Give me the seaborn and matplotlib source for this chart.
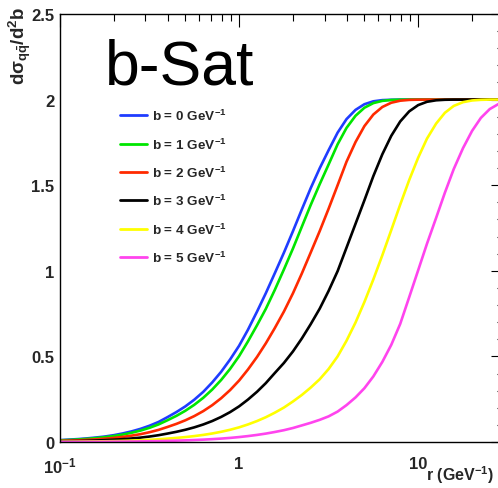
import numpy as np
import pandas as pd
import matplotlib
matplotlib.use("Agg")
import matplotlib.pyplot as plt
import matplotlib.ticker as mticker
import seaborn as sns

# ---- data (r in GeV^-1, dipole cross section) ----
r_vals = [0.1, 0.112, 0.126, 0.141, 0.158, 0.178, 0.2, 0.224, 0.251, 0.282,
          0.316, 0.355, 0.398, 0.447, 0.501, 0.562, 0.631, 0.708, 0.794, 0.891,
          1.0, 1.12, 1.26, 1.41, 1.58, 1.78, 2.0, 2.24, 2.51, 2.82,
          3.16, 3.55, 3.98, 4.47, 5.01, 5.62, 6.31, 7.08, 7.94, 8.91,
          10.0, 11.2, 12.6, 14.1, 15.8, 17.8, 20.0, 22.4, 25.1, 28.2, 30.0]
sig_b0 = [0.011, 0.014, 0.017, 0.021, 0.026, 0.032, 0.040, 0.050, 0.062, 0.077,
          0.095, 0.117, 0.145, 0.175, 0.208, 0.247, 0.293, 0.348, 0.410, 0.482,
          0.562, 0.655, 0.762, 0.869, 0.984, 1.106, 1.232, 1.358, 1.482, 1.599,
          1.704, 1.807, 1.886, 1.940, 1.973, 1.990, 1.997, 1.999, 2.0, 2.0,
          2.0, 2.0, 2.0, 2.0, 2.0, 2.0, 2.0, 2.0, 2.0, 2.0, 2.0]
sig_b1 = [0.0095, 0.0118, 0.0147, 0.0182, 0.0227, 0.0282, 0.035, 0.0434, 0.0539, 0.0669,
          0.0829, 0.1027, 0.1269, 0.1529, 0.1824, 0.2172, 0.2582, 0.3064, 0.3623, 0.4271,
          0.5014, 0.587, 0.6823, 0.7775, 0.8866, 1.008, 1.1306, 1.2571, 1.3837, 1.5061,
          1.6205, 1.739, 1.8345, 1.9055, 1.9524, 1.9795, 1.9926, 1.9979, 1.9996, 2.0,
          2.0, 2.0, 2.0, 2.0, 2.0, 2.0, 2.0, 2.0, 2.0, 2.0, 2.0]
sig_b2 = [0.0065, 0.0081, 0.01, 0.0125, 0.0155, 0.0193, 0.024, 0.0298, 0.0371, 0.046,
          0.0571, 0.0708, 0.0877, 0.106, 0.1267, 0.1513, 0.1805, 0.2151, 0.2557, 0.3033,
          0.3588, 0.423, 0.4971, 0.5762, 0.664, 0.7621, 0.8691, 0.984, 1.106, 1.232,
          1.362, 1.500, 1.637, 1.7522, 1.8452, 1.9128, 1.9569, 1.9818, 1.9936, 1.9983,
          1.9996, 2.0, 2.0, 2.0, 2.0, 2.0, 2.0, 2.0, 2.0, 2.0, 2.0]
sig_b3 = [0.0036, 0.0045, 0.0056, 0.0069, 0.0086, 0.0108, 0.0134, 0.0166, 0.0207, 0.0257,
          0.0319, 0.0397, 0.0492, 0.0596, 0.0714, 0.0855, 0.1024, 0.1225, 0.1464, 0.1746,
          0.2081, 0.2475, 0.2936, 0.3438, 0.402, 0.4618, 0.5293, 0.6045, 0.6878, 0.779,
          0.882, 0.998, 1.135, 1.2747, 1.4118, 1.5531, 1.6808, 1.7887, 1.8723, 1.9312,
          1.9678, 1.9872, 1.9959, 1.999, 2.0, 2.0, 2.0, 2.0, 2.0, 2.0, 2.0]
sig_b4 = [0.0014, 0.0018, 0.0022, 0.0028, 0.0034, 0.0043, 0.0053, 0.0066, 0.0083, 0.0103,
          0.0128, 0.0159, 0.0197, 0.0239, 0.0287, 0.0345, 0.0414, 0.0497, 0.0596, 0.0714,
          0.0856, 0.1024, 0.1225, 0.1447, 0.1708, 0.2013, 0.2369, 0.2746, 0.3176, 0.3666,
          0.426, 0.500, 0.5914, 0.6981, 0.8178, 0.9496, 1.091, 1.2385, 1.3868, 1.5299,
          1.6606, 1.772, 1.86, 1.923, 1.963, 1.9849, 1.995, 1.9987, 2.0, 2.0, 2.0]
sig_b5 = [0.0005, 0.0006, 0.0007, 0.0009, 0.0011, 0.0014, 0.0018, 0.0022, 0.0027, 0.0034,
          0.0042, 0.0053, 0.0066, 0.008, 0.0096, 0.0115, 0.0138, 0.0166, 0.0199, 0.0239,
          0.0288, 0.0345, 0.0414, 0.0491, 0.0583, 0.069, 0.0818, 0.0968, 0.112, 0.1295,
          0.1496, 0.1777, 0.2154, 0.2605, 0.3142, 0.383, 0.468, 0.568, 0.690, 0.8457,
          1.003, 1.158, 1.3094, 1.4562, 1.5941, 1.7164, 1.8171, 1.8932, 1.9446, 1.9752, 1.9851]
labels = ["b = 0 GeV$^{-1}$", "b = 1 GeV$^{-1}$", "b = 2 GeV$^{-1}$",
          "b = 3 GeV$^{-1}$", "b = 4 GeV$^{-1}$", "b = 5 GeV$^{-1}$"]
colors = ["#1f3cff", "#00e600", "#ff2a00", "#000000", "#ffff00", "#ff44ee"]
x_tick_vals = [0.1, 1, 10]
x_tick_labels = ["10$^{-1}$", "1", "10"]
y_tick_vals = [0, 0.5, 1, 1.5, 2, 2.5]
y_tick_labels = ["0", "0.5", "1", "1.5", "2", "2.5"]

series = [sig_b0, sig_b1, sig_b2, sig_b3, sig_b4, sig_b5]
df = pd.concat([pd.DataFrame({"r": r_vals, "sigma": s, "b": lab})
                for s, lab in zip(series, labels)], ignore_index=True)

sns.set_theme(style="white")
plt.rcParams["font.family"] = ["Liberation Sans", "DejaVu Sans"]
plt.rcParams["mathtext.fontset"] = "custom"
plt.rcParams["mathtext.rm"] = "Liberation Sans"
plt.rcParams["mathtext.bf"] = "Liberation Sans:bold"
plt.rcParams["mathtext.it"] = "Liberation Sans:italic"
plt.rcParams["mathtext.default"] = "bf"

W, H = 498, 489
fig = plt.figure(figsize=(W / 100, H / 100), dpi=100)
ax = fig.add_axes([60 / W, 1 - 443 / H, 443.6 / W, 428 / H])

sns.lineplot(data=df, x="r", y="sigma", hue="b", palette=colors, linewidth=1.9,
             ax=ax, legend=True)

ax.set_xscale("log")
ax.set_xlim(0.1, 30)
ax.set_ylim(0, 2.5)
ax.set_xlabel("")
ax.set_ylabel("")

ax.xaxis.set_major_locator(mticker.FixedLocator(x_tick_vals))
ax.xaxis.set_major_formatter(mticker.FixedFormatter(x_tick_labels))
ax.xaxis.set_minor_locator(mticker.LogLocator(base=10, subs=np.arange(2, 10)))
ax.xaxis.set_minor_formatter(mticker.NullFormatter())
ax.yaxis.set_major_locator(mticker.FixedLocator(y_tick_vals))
ax.yaxis.set_major_formatter(mticker.FixedFormatter(y_tick_labels))
ax.yaxis.set_minor_locator(mticker.MultipleLocator(0.1))

ax.tick_params(which="both", direction="in", top=True, right=True, color="black", width=0.8)
ax.tick_params(which="major", length=9.5)
ax.tick_params(which="minor", length=5)
ax.tick_params(axis="x", which="major", labelsize=12, pad=10)
ax.tick_params(axis="y", which="major", labelsize=12, pad=4)
for lab in ax.get_xticklabels() + ax.get_yticklabels():
    lab.set_fontweight("bold")
for sp in ax.spines.values():
    sp.set_color("black")
    sp.set_linewidth(1.0)

handles, labs = ax.get_legend_handles_labels()
leg = ax.legend(handles, labs, loc="upper left", bbox_to_anchor=(120 / W, 1 - 109 / H),
                bbox_transform=fig.transFigure, frameon=False, borderpad=0, borderaxespad=0,
                handlelength=2.0, handletextpad=0.4, labelspacing=0.975,
                prop={"weight": "bold", "size": 9.7})
for line in leg.get_lines():
    line.set_linewidth(2.0)

ax.text(105 / W, 1 - 85 / H, "b-Sat", transform=fig.transFigure, fontsize=45,
        ha="left", va="baseline", color="black")

fig.text(20 / W, 1 - 7 / H, r"d$\sigma_{q\bar{q}}$/d$^{2}$b", rotation=90,
         ha="center", va="top", fontsize=13.5, fontweight="bold")
fig.text(494 / W, 1 - 481 / H, "r (GeV$^{-1}$)", ha="right", va="baseline",
         fontsize=11.5, fontweight="bold")

fig.savefig("out.png", dpi=100)
